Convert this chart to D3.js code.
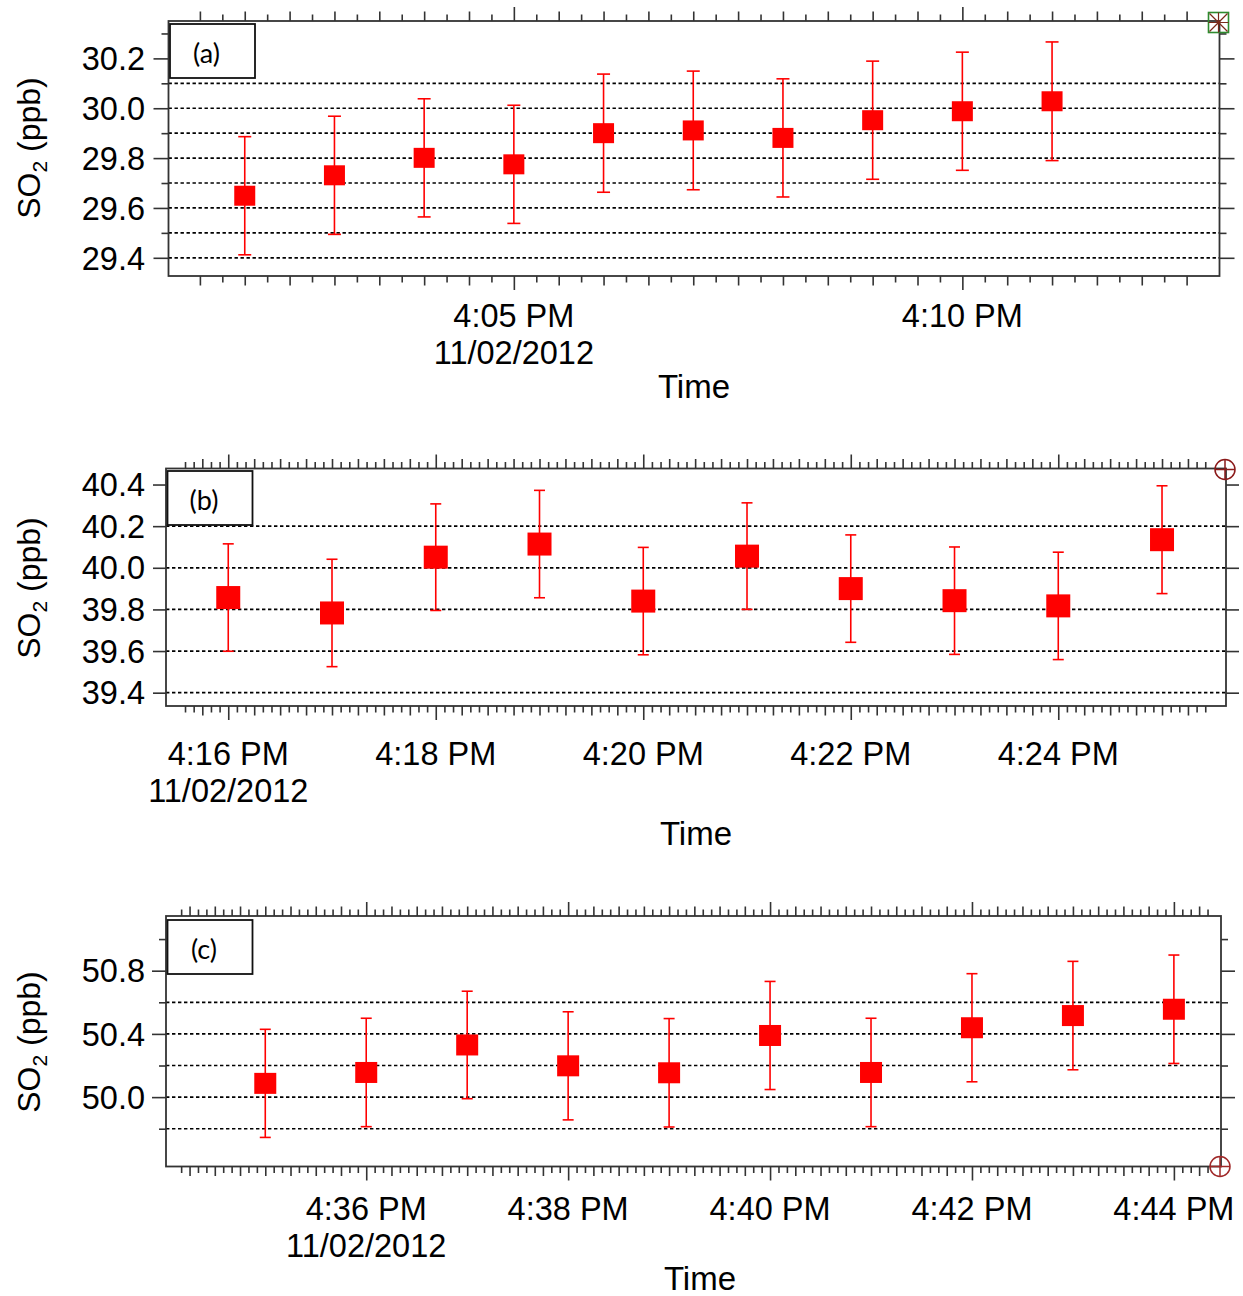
<!DOCTYPE html>
<html>
<head>
<meta charset="utf-8">
<script src="https://cdn.jsdelivr.net/npm/d3@7"></script>
<style>
  body { margin: 0; background: #fff; }
  svg { display: block; font-family: "Liberation Sans", Arial, sans-serif; }
</style>
</head>
<body>
<svg id="chart" width="1243" height="1296"></svg>
<script>
// ---------- Panel (a) ----------
const timesA = ["16:02","16:03","16:04","16:05","16:06","16:07","16:08","16:09","16:10","16:11"];
const so2A   = [29.649, 29.731, 29.801, 29.775, 29.900, 29.911, 29.881, 29.952, 29.988, 30.028];
const errA   = [0.237, 0.237, 0.237, 0.237, 0.237, 0.238, 0.237, 0.237, 0.237, 0.238];
const yMajorA = [29.4, 29.6, 29.8, 30.0, 30.2];
const yMinorA = [29.5, 29.7, 29.9, 30.1, 30.3];
const gridA   = [29.4, 29.5, 29.6, 29.7, 29.8, 29.9, 30.0, 30.1];
const xLabelsA = ["16:05", "16:10"];
const yDomainA = [29.327, 30.35];
const xDomainA = ["16:01:09", "16:12:52"];

// ---------- Panel (b) ----------
const timesB = ["16:16","16:17","16:18","16:19","16:20","16:21","16:22","16:23","16:24","16:25"];
const so2B   = [39.857, 39.783, 40.051, 40.114, 39.840, 40.056, 39.900, 39.842, 39.817, 40.135];
const errB   = [0.258, 0.258, 0.256, 0.258, 0.258, 0.256, 0.258, 0.258, 0.258, 0.259];
const yMajorB = [39.4, 39.6, 39.8, 40.0, 40.2, 40.4];
const yMinorB = [];
const gridB   = [39.4, 39.6, 39.8, 40.0, 40.2];
const xLabelsB = ["16:16", "16:18", "16:20", "16:22", "16:24"];
const yDomainB = [39.336, 40.477];
const xDomainB = ["16:15:24", "16:25:37"];

// ---------- Panel (c) ----------
const timesC = ["16:35","16:36","16:37","16:38","16:39","16:40","16:41","16:42","16:43","16:44"];
const so2C   = [50.087, 50.156, 50.330, 50.198, 50.154, 50.390, 50.156, 50.439, 50.516, 50.556];
const errC   = [0.342, 0.343, 0.340, 0.342, 0.343, 0.342, 0.343, 0.342, 0.343, 0.343];
const yMajorC = [50.0, 50.4, 50.8];
const yMinorC = [49.8, 50.2, 50.6, 51.0];
const gridC   = [49.8, 50.0, 50.2, 50.4, 50.6];
const xLabelsC = ["16:36", "16:38", "16:40", "16:42", "16:44"];
const yDomainC = [49.561, 51.146];
const xDomainC = ["16:34:01", "16:44:28"];

const dateLabel = "11/02/2012";
const panelTags = ["(a)", "(b)", "(c)"];

// ---------- drawing ----------
const svg = d3.select("#chart");
const day = "2012-11-02T";
const parseT = s => new Date(day + (s.length === 5 ? s + ":00" : s));
const fmtTime = d3.timeFormat("%-I:%M %p");

const AX = "#333";
const RED = "#ff0000";
const FS = 32.5;

function drawPanel(p) {
  const g = svg.append("g");
  const [x0, x1, y0, y1] = [p.box.left, p.box.right, p.box.top, p.box.bottom];

  const x = d3.scaleTime().domain(p.xDomain.map(parseT)).range([x0, x1]);
  const y = d3.scaleLinear().domain(p.yDomain).range([y1, y0]);

  // dotted horizontal grid
  g.append("g").selectAll("line").data(p.grid).join("line")
    .attr("x1", x0).attr("x2", x1)
    .attr("y1", d => y(d)).attr("y2", d => y(d))
    .attr("stroke", "#000").attr("stroke-width", 1.7)
    .attr("stroke-dasharray", "3.4,2.6");

  // time ticks: every minor step, dropping those hugging the frame ends
  const [t0, t1] = x.domain();
  const secOfDay = d => d.getHours() * 3600 + d.getMinutes() * 60 + d.getSeconds();
  const all = d3.timeSecond.every(p.tickSec.minor).range(t0, t1)
    .filter(d => x(d) - x0 > 12.5 && x1 - x(d) > 12.5);
  const majorT = all.filter(d => secOfDay(d) % p.tickSec.major === 0);
  const midT = all.filter(d => secOfDay(d) % p.tickSec.mid === 0 && secOfDay(d) % p.tickSec.major !== 0);
  const minT = all.filter(d => secOfDay(d) % p.tickSec.mid !== 0);

  const tickSets = [[minT, 6.5], [midT, 9.5], [majorT, 14]];
  tickSets.forEach(([vals, len]) => {
    const bottom = g.append("g").attr("transform", `translate(0,${y1})`)
      .call(d3.axisBottom(x).tickValues(vals).tickSize(len).tickSizeOuter(0).tickFormat(""));
    const top = g.append("g").attr("transform", `translate(0,${y0})`)
      .call(d3.axisTop(x).tickValues(vals).tickSize(len).tickSizeOuter(0).tickFormat(""));
    [bottom, top].forEach(a => {
      a.select(".domain").remove();
      a.selectAll("line").attr("stroke", AX).attr("stroke-width", 1.6);
    });
  });

  // value ticks on both sides
  [[p.yMajor, p.yTickLen.major], [p.yMinor, p.yTickLen.minor]].forEach(([vals, len]) => {
    const left = g.append("g").attr("transform", `translate(${x0},0)`)
      .call(d3.axisLeft(y).tickValues(vals).tickSize(len).tickSizeOuter(0).tickFormat(""));
    const right = g.append("g").attr("transform", `translate(${x1},0)`)
      .call(d3.axisRight(y).tickValues(vals).tickSize(len).tickSizeOuter(0).tickFormat(""));
    [left, right].forEach(a => {
      a.select(".domain").remove();
      a.selectAll("line").attr("stroke", AX).attr("stroke-width", 1.6);
    });
  });

  // frame
  g.append("rect").attr("x", x0).attr("y", y0)
    .attr("width", x1 - x0).attr("height", y1 - y0)
    .attr("fill", "none").attr("stroke", AX).attr("stroke-width", 1.8);

  // value tick labels
  g.append("g").selectAll("text").data(p.yMajor).join("text")
    .attr("x", 145).attr("y", d => y(d)).attr("dy", "0.36em")
    .attr("text-anchor", "end").attr("font-size", FS).attr("fill", "#000")
    .text(d => d.toFixed(1));

  // time tick labels
  const labT = p.xLabels.map(parseT);
  g.append("g").selectAll("text").data(labT).join("text")
    .attr("x", d => x(d)).attr("y", y1 + p.labelGap)
    .attr("text-anchor", "middle").attr("font-size", FS).attr("fill", "#000")
    .text(d => fmtTime(d));
  g.append("text")
    .attr("x", x(labT[0])).attr("y", y1 + p.labelGap + 37)
    .attr("text-anchor", "middle").attr("font-size", FS).attr("fill", "#000")
    .text(dateLabel);

  // axis titles
  g.append("text")
    .attr("x", p.timeTitle.x).attr("y", p.timeTitle.y)
    .attr("text-anchor", "middle").attr("font-size", 33).attr("fill", "#000")
    .text("Time");
  const yt = g.append("text")
    .attr("transform", `translate(40,${p.yTitleY}) rotate(-90)`)
    .attr("text-anchor", "middle").attr("font-size", 32).attr("fill", "#000");
  yt.append("tspan").text("SO");
  yt.append("tspan").attr("font-size", 21).attr("dy", 7).text("2");
  yt.append("tspan").attr("dy", -7).text(" (ppb)");

  // error bars
  const pts = p.times.map((t, i) => ({ t: parseT(t), v: p.so2[i], e: p.err[i] }));
  const eb = g.append("g").attr("stroke", RED).attr("stroke-width", 1.6);
  eb.selectAll("line.stem").data(pts).join("line").attr("class", "stem")
    .attr("x1", d => x(d.t)).attr("x2", d => x(d.t))
    .attr("y1", d => y(d.v - d.e)).attr("y2", d => y(d.v + d.e));
  eb.selectAll("line.capTop").data(pts).join("line").attr("class", "capTop")
    .attr("x1", d => x(d.t) - p.cap / 2).attr("x2", d => x(d.t) + p.cap / 2)
    .attr("y1", d => y(d.v + d.e)).attr("y2", d => y(d.v + d.e));
  eb.selectAll("line.capBot").data(pts).join("line").attr("class", "capBot")
    .attr("x1", d => x(d.t) - p.cap / 2).attr("x2", d => x(d.t) + p.cap / 2)
    .attr("y1", d => y(d.v - d.e)).attr("y2", d => y(d.v - d.e));

  // square markers
  g.append("g").selectAll("rect").data(pts).join("rect")
    .attr("x", d => x(d.t) - p.sq.w / 2).attr("y", d => y(d.v) - p.sq.h / 2)
    .attr("width", p.sq.w).attr("height", p.sq.h)
    .attr("fill", RED);

  // panel tag box
  g.append("rect").attr("x", x0 + 1.5).attr("y", p.tagBox.y)
    .attr("width", 85).attr("height", 54)
    .attr("fill", "#fff").attr("stroke", "#111").attr("stroke-width", 1.8);
  g.append("text").attr("x", x0 + 38).attr("y", p.tagBox.y + 39)
    .attr("text-anchor", "middle").attr("font-family", "Lato, 'Open Sans', sans-serif")
    .attr("font-size", 27).attr("fill", "#000").text(p.tag);

  return g;
}

drawPanel({
  times: timesA, so2: so2A, err: errA,
  yMajor: yMajorA, yMinor: yMinorA, grid: gridA, xLabels: xLabelsA,
  yDomain: yDomainA, xDomain: xDomainA,
  box: { left: 168.5, right: 1219.5, top: 21, bottom: 276 },
  tickSec: { minor: 15, mid: 30, major: 300 },
  yTickLen: { major: 15, minor: 7 },
  labelGap: 51, timeTitle: { x: 694, y: 398 }, yTitleY: 148,
  cap: 13, sq: { w: 21, h: 20 }, tag: panelTags[0], tagBox: { y: 24 }
});

drawPanel({
  times: timesB, so2: so2B, err: errB,
  yMajor: yMajorB, yMinor: yMinorB, grid: gridB, xLabels: xLabelsB,
  yDomain: yDomainB, xDomain: xDomainB,
  box: { left: 166, right: 1226, top: 468.5, bottom: 706 },
  tickSec: { minor: 5, mid: 15, major: 120 },
  yTickLen: { major: 13, minor: 7 },
  labelGap: 59, timeTitle: { x: 696, y: 845 }, yTitleY: 588,
  cap: 11, sq: { w: 24, h: 23 }, tag: panelTags[1], tagBox: { y: 471 }
});

drawPanel({
  times: timesC, so2: so2C, err: errC,
  yMajor: yMajorC, yMinor: yMinorC, grid: gridC, xLabels: xLabelsC,
  yDomain: yDomainC, xDomain: xDomainC,
  box: { left: 166, right: 1221, top: 916, bottom: 1166.5 },
  tickSec: { minor: 5, mid: 15, major: 120 },
  yTickLen: { major: 14, minor: 7 },
  labelGap: 53, timeTitle: { x: 700, y: 1290 }, yTitleY: 1042,
  cap: 11, sq: { w: 22, h: 21 }, tag: panelTags[2], tagBox: { y: 920 }
});

// cursor markers at the frame corners
const curA = svg.append("g").attr("transform", "translate(1218.5,22.5)");
curA.append("rect").attr("x", -10).attr("y", -10).attr("width", 20).attr("height", 20)
  .attr("fill", "none").attr("stroke", "#2e8b2e").attr("stroke-width", 1.6);
curA.append("path").attr("d", "M-9,-9L9,9M9,-9L-9,9M-10,0L10,0M0,-10L0,10")
  .attr("stroke", "#7a2a1a").attr("stroke-width", 1.2).attr("fill", "none");

[[1225, 469.5, "#8b1a1a"], [1220, 1166.5, "#a02828"]].forEach(([cx, cy, col]) => {
  const c = svg.append("g").attr("transform", `translate(${cx},${cy})`);
  c.append("circle").attr("r", 10).attr("fill", "none").attr("stroke", col).attr("stroke-width", 1.5);
  c.append("path").attr("d", "M-10,0L10,0M0,-10L0,10")
    .attr("stroke", col).attr("stroke-width", 1.5);
});
</script>
</body>
</html>
